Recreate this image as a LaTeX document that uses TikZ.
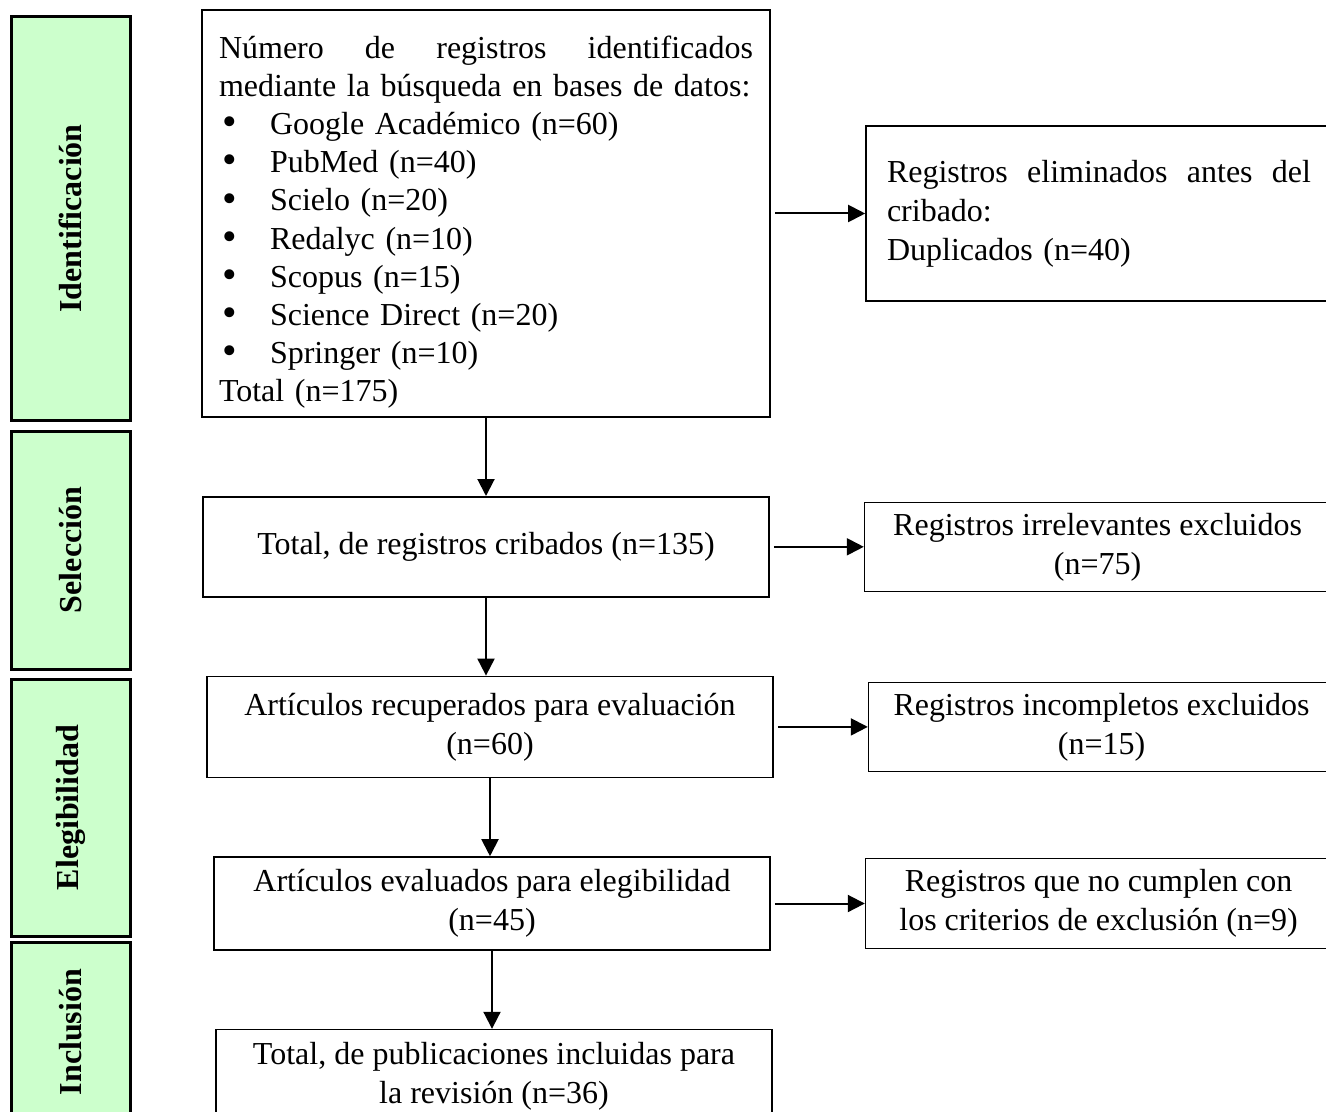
\documentclass[tikz,border=0pt]{standalone}
\usepackage{fontspec}
\usepackage{graphicx}
\setmainfont{Liberation Serif}
\usetikzlibrary{positioning,arrows.meta}
\definecolor{fasegreen}{RGB}{204,255,204}
\newcommand{\bullitem}[1]{\hspace*{1.5pt}\makebox[24pt][l]{\raisebox{-0.6pt}{\scalebox{1.3}{\textbullet}}}#1}

\begin{document}
\begin{tikzpicture}[
x=0.5pt,
y=-0.5pt,
node distance=39pt and 47pt,
every node/.style={font=\fontsize{16}{19.5}\selectfont},
caja/.style={
draw,
line width=0.8pt,
minimum width=283pt,
minimum height=50pt,
align=center,
inner sep=4pt
},
excl/.style={
draw,
line width=0.8pt,
minimum width=233pt,
minimum height=44.5pt,
align=center,
inner sep=4pt
},
fase/.style={
draw,
line width=1.5pt,
fill=fasegreen,
rotate=90,
minimum height=59.5pt,
font=\fontsize{16}{19.5}\selectfont\bfseries
},
flecha/.style={->,line width=1pt},
>={Triangle[length=8.5pt,width=8.5pt]}
]

\useasboundingbox (0,0) rectangle (1326,1112);
\clip (0,0) rectangle (1326,1112);

\node (identificacion) [fase, minimum width=201.5pt] at (70.5,218.5) {Identificación};
\node (seleccion) [fase, minimum width=119pt] at (70.5,550) {Selección};
\node (elegibilidad) [fase, minimum width=128.5pt] at (70.5,807.5) {Elegibilidad};
\node (inclusion) [fase, minimum width=90pt] at (70.5,1032) {Inclusión};

\node (busqueda) [caja, line width=1.2pt, align=left, text width=267pt,
inner xsep=8.5pt, minimum height=202.5pt,
font=\fontsize{16}{19.1}\selectfont] at (486,213.5)
{\rule{0pt}{20pt}Número\hfill de\hfill registros\hfill identificados\\
\mbox{mediante la búsqueda en bases de datos:}\\
\bullitem{Google Académico (n=60)}\\
\bullitem{PubMed (n=40)}\\
\bullitem{Scielo (n=20)}\\
\bullitem{Redalyc (n=10)}\\
\bullitem{Scopus (n=15)}\\
\bullitem{Science Direct (n=20)}\\
\bullitem{Springer (n=10)}\\
Total (n=175)};

\node (duplicados) [excl, align=left, text width=212pt, inner xsep=10.5pt,
minimum height=87.5pt, right=of busqueda]
{Registros\hfill eliminados\hfill antes\hfill del\\
cribado:\\
Duplicados (n=40)};

\node (cribados) [caja, below=of busqueda]
{Total, de registros cribados (n=135)};

\node (irrelevantes) [excl, right=of cribados]
{Registros irrelevantes excluidos\\ (n=75)};

\node (recuperados) [caja, minimum height=50.5pt, below=of cribados, xshift=2pt]
{Artículos recuperados para evaluación\\ (n=60)};

\node (incompletos) [excl, right=of recuperados]
{Registros incompletos excluidos\\ (n=15)};

\node (evaluados) [caja, minimum width=278pt, minimum height=46.5pt, below=of recuperados, xshift=1pt]
{Artículos evaluados para elegibilidad\\ (n=45)};

\node (criterios) [excl, minimum height=45pt, right=of evaluados]
{Registros que no cumplen con\\ los criterios de exclusión (n=9)};

\node (incluidas) [caja, minimum width=278pt, minimum height=46.5pt, below=of evaluados, xshift=1pt]
{Total, de publicaciones incluidas para\\ la revisión (n=36)};

\draw[flecha] (busqueda.south)--(busqueda.south |- cribados.north);
\draw[flecha] (cribados.south)--(cribados.south |- recuperados.north);
\draw[flecha] (recuperados.south)--(recuperados.south |- evaluados.north);
\draw[flecha] (evaluados.south)--(evaluados.south |- incluidas.north);

\draw[flecha,shorten <=2pt] (busqueda)--(duplicados);
\draw[flecha,shorten <=2pt] (cribados)--(irrelevantes);
\draw[flecha,shorten <=2pt] (recuperados)--(incompletos);
\draw[flecha,shorten <=2pt] (evaluados)--(criterios);

\end{tikzpicture}
\end{document}
